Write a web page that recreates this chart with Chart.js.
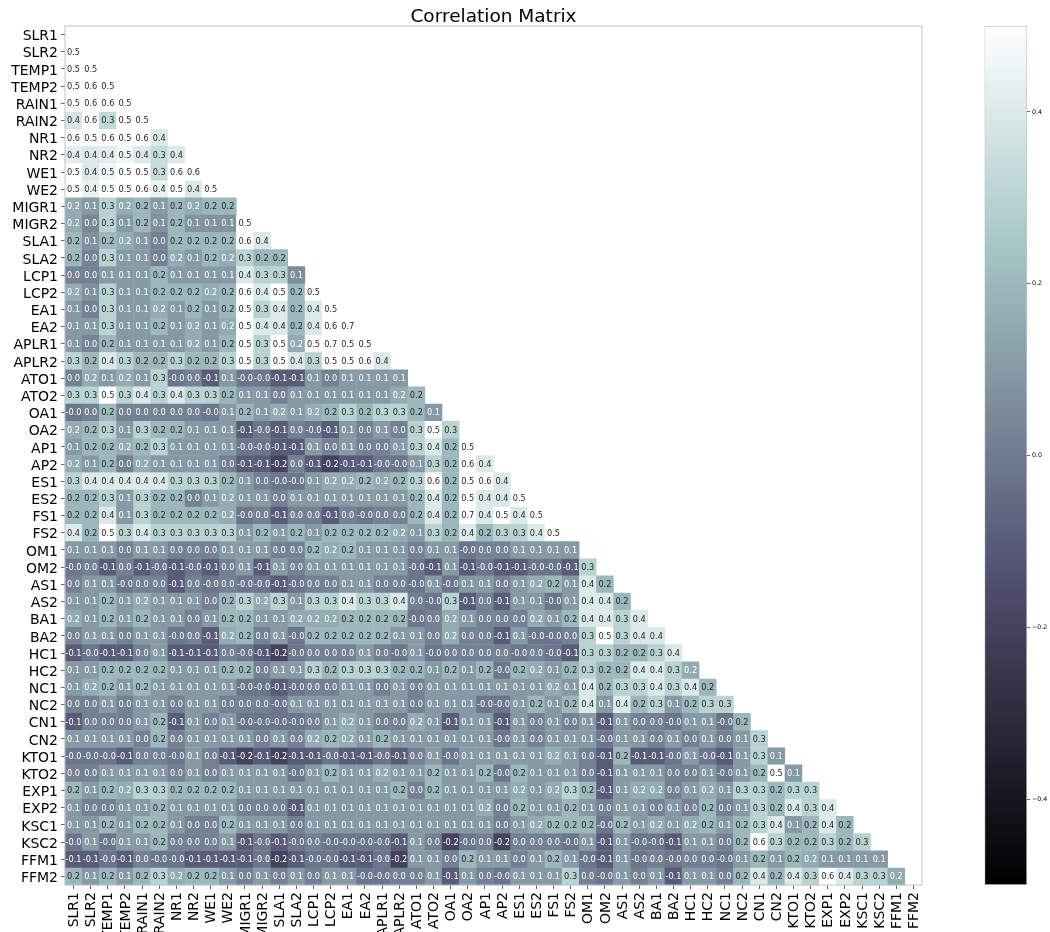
<!DOCTYPE html>
<html>
<head>
<meta charset="utf-8">
<title>Correlation Matrix</title>
<script src="https://cdn.jsdelivr.net/npm/chart.js@4"></script>
<style>
  html, body { margin: 0; padding: 0; background: #fff; overflow: hidden; }
  #wrap { position: relative; width: 1050px; height: 932px; }
  canvas { filter: blur(0.35px); }
  #heat { position: absolute; left: 0; top: 0; }
  #bar { position: absolute; left: 960px; top: 0; }
</style>
</head>
<body>
<div id="wrap">
  <canvas id="heat" width="1050" height="932"></canvas>
  <canvas id="bar" width="90" height="932"></canvas>
</div>
<script>
const labels = ["SLR1","SLR2","TEMP1","TEMP2","RAIN1","RAIN2","NR1","NR2","WE1","WE2","MIGR1","MIGR2","SLA1","SLA2","LCP1","LCP2","EA1","EA2","APLR1","APLR2","ATO1","ATO2","OA1","OA2","AP1","AP2","ES1","ES2","FS1","FS2","OM1","OM2","AS1","AS2","BA1","BA2","HC1","HC2","NC1","NC2","CN1","CN2","KTO1","KTO2","EXP1","EXP2","KSC1","KSC2","FFM1","FFM2"];
const colorbarTicks = [-0.4, -0.2, 0, 0.2, 0.4];

// lower triangle, one list per row (SLR1 row is empty)
const rowSLR2 = [.5];
const rowTEMP1 = [.5,.5];
const rowTEMP2 = [.5,.6,.5];
const rowRAIN1 = [.5,.6,.6,.5];
const rowRAIN2 = [.38,.6,.32,.5,.5];
const rowNR1 = [.6,.5,.6,.5,.6,.4];
const rowNR2 = [.42,.4,.42,.46,.4,.34,.4];
const rowWE1 = [.5,.4,.46,.5,.5,.34,.6,.6];
const rowWE2 = [.5,.44,.5,.5,.6,.44,.5,.4,.5];
const rowMIGR1 = [.16,.1,.3,.16,.2,.1,.2,.16,.2,.2];
const rowMIGR2 = [.16,.04,.3,.1,.2,.07,.2,.08,.08,.08,.5];
const rowSLA1 = [.2,.07,.2,.16,.1,.02,.2,.2,.2,.2,.6,.4];
const rowSLA2 = [.2,.02,.3,.1,.1,.02,.16,.1,.2,.16,.3,.2,.2];
const rowLCP1 = [.02,.02,.1,.1,.1,.2,.1,.1,.1,.1,.4,.3,.3,.06];
const rowLCP2 = [.16,.07,.3,.1,.1,.2,.2,.2,.16,.2,.6,.4,.5,.2,.5];
const rowEA1 = [.1,.02,.3,.1,.1,.16,.1,.2,.1,.2,.5,.3,.4,.2,.4,.5];
const rowEA2 = [.1,.1,.3,.1,.1,.2,.1,.16,.1,.16,.5,.4,.4,.2,.4,.6,.7];
const rowAPLR1 = [.1,.03,.2,.1,.1,.1,.1,.16,.1,.2,.5,.3,.5,.16,.5,.7,.5,.5];
const rowAPLR2 = [.3,.2,.4,.3,.2,.2,.3,.2,.2,.3,.5,.3,.5,.4,.3,.5,.5,.6,.4];
const rowATO1 = [.02,.16,.1,.16,.1,.3,-.02,.02,-.1,.1,-.02,-.02,-.1,-.1,.1,.02,.1,.1,.1,.1];
const rowATO2 = [.3,.3,.5,.3,.4,.3,.4,.3,.3,.2,.1,.1,.02,.1,.1,.1,.1,.1,.1,.16,.2];
const rowOA1 = [-.02,.02,.2,.02,.02,.02,.02,.02,-.02,.1,.2,.1,.16,.1,.16,.2,.3,.2,.3,.3,.2,.1];
const rowOA2 = [.16,.2,.3,.1,.3,.2,.2,.1,.1,.1,-.1,-.02,-.1,.02,-.02,-.1,.1,.02,.1,.02,.3,.5,.3];
const rowAP1 = [.1,.2,.2,.16,.2,.3,.1,.1,.1,.1,-.02,-.02,-.1,-.1,.1,.02,.1,.02,.02,.1,.3,.4,.2,.5];
const rowAP2 = [.16,.1,.2,.02,.16,.1,.1,.1,.1,.02,-.1,-.1,-.2,.02,-.1,-.2,-.1,-.1,-.02,-.02,.1,.3,.2,.6,.4];
const rowES1 = [.3,.4,.4,.4,.4,.4,.3,.3,.3,.2,.1,.02,-.02,-.02,.1,.16,.16,.2,.16,.2,.3,.6,.2,.5,.6,.4];
const rowES2 = [.2,.2,.3,.1,.3,.2,.2,.02,.1,.16,.1,.1,.02,.1,.1,.1,.1,.1,.1,.1,.2,.4,.2,.5,.4,.4,.5];
const rowFS1 = [.2,.2,.4,.1,.3,.2,.2,.2,.2,.16,-.02,.02,-.1,.02,.02,-.1,.02,-.02,.02,.02,.2,.4,.2,.7,.4,.5,.4,.5];
const rowFS2 = [.4,.2,.5,.3,.4,.3,.3,.3,.3,.3,.1,.2,.1,.2,.1,.2,.2,.2,.2,.16,.1,.3,.2,.4,.2,.3,.3,.4,.5];
const rowOM1 = [.1,.1,.1,.02,.1,.1,.02,.02,.02,.1,.1,.1,.02,.02,.2,.16,.2,.1,.1,.1,.02,.1,.1,-.02,.02,.02,.1,.1,.1,.1];
const rowOM2 = [-.02,.02,-.1,.02,-.1,-.02,-.1,-.02,-.1,.02,.1,-.1,.1,.02,.1,.1,.1,.1,.1,.1,-.02,-.1,.1,-.1,-.02,-.1,-.1,-.02,-.02,-.1,.3];
const rowAS1 = [.02,.1,.1,-.02,.02,.02,-.1,.02,-.02,.02,-.02,-.02,-.1,-.02,.02,.02,.1,.1,.02,.02,-.02,.1,-.02,.1,.1,.02,.1,.16,.2,.1,.4,.2];
const rowAS2 = [.1,.1,.2,.1,.16,.1,.1,.1,.02,.2,.3,.16,.3,.1,.3,.3,.4,.3,.3,.4,.02,-.02,.3,-.1,.02,-.1,.1,.1,-.02,.1,.4,.4,.2];
const rowBA1 = [.16,.1,.2,.1,.2,.1,.1,.02,.1,.2,.2,.1,.1,.16,.16,.16,.2,.2,.2,.2,-.02,.02,.16,.1,.02,.02,.02,.16,.1,.2,.4,.4,.3,.4];
const rowBA2 = [.02,.1,.1,.02,.1,.1,-.02,.02,-.1,.16,.2,.02,.1,-.02,.2,.2,.2,.2,.2,.1,.1,.02,.16,.02,.02,-.1,.1,-.02,-.02,.02,.3,.5,.3,.4,.4];
const rowHC1 = [-.1,-.02,-.1,-.1,.02,.1,-.1,-.1,-.1,.02,-.02,-.1,-.2,-.02,.02,.02,.02,.1,.02,-.02,.1,-.02,.02,.02,.02,.02,-.02,.02,-.02,-.1,.3,.3,.2,.2,.3,.4];
const rowHC2 = [.1,.1,.2,.2,.2,.2,.1,.1,.1,.2,.2,.02,.1,.1,.3,.2,.3,.3,.3,.2,.2,.1,.2,.1,.2,-.02,.2,.16,.1,.2,.3,.2,.2,.4,.4,.3,.16];
const rowNC1 = [.1,.16,.2,.1,.2,.1,.1,.1,.1,.1,-.02,-.02,-.1,-.02,.02,.02,.1,.1,.02,.1,.02,.1,.1,.1,.1,.1,.1,.1,.16,.1,.4,.2,.3,.3,.4,.3,.4,.2];
const rowNC2 = [.02,.02,.1,.02,.1,.1,.02,.1,.1,.02,.02,.02,-.02,.1,.1,.1,.1,.1,.1,.1,.02,.1,.1,.1,-.02,-.02,.1,.2,.1,.2,.4,.1,.4,.2,.3,.1,.2,.3,.3];
const rowCN1 = [-.1,.02,.02,.02,.1,.2,-.1,.1,.02,.1,-.02,-.02,-.02,-.02,.02,.1,.16,.1,.02,.02,.16,.1,-.1,.1,.1,-.1,.1,.02,.1,.02,.1,-.1,.1,.02,.02,-.02,.1,.1,-.02,.2];
const rowCN2 = [.1,.1,.1,.1,.02,.2,.02,.1,.1,.1,.1,.02,.1,.02,.16,.2,.16,.1,.2,.1,.1,.1,.1,.1,.1,-.02,.1,.02,.1,.1,.1,-.02,.1,.1,.02,.1,.02,.1,.02,.1,.3];
const rowKTO1 = [-.02,-.02,-.02,-.1,.02,.02,-.02,.1,.02,-.1,-.2,-.1,-.2,-.1,-.1,-.02,-.1,-.1,-.02,-.1,.02,.1,-.02,.1,.1,.1,.1,.1,.16,.1,.02,-.1,.2,-.1,-.1,-.02,.1,-.02,-.1,.1,.3,.1];
const rowKTO2 = [.02,.02,.1,.1,.1,.1,.02,.1,.02,.1,.1,.1,.1,-.02,.1,.2,.1,.1,.16,.1,.1,.2,.1,.1,.2,-.02,.2,.1,.1,.1,.02,-.1,.1,.1,.1,.02,.02,.1,-.02,.1,.2,.5,.1];
const rowEXP1 = [.2,.1,.2,.16,.3,.3,.2,.2,.2,.2,.1,.1,.1,.1,.1,.1,.1,.1,.1,.2,.02,.2,.1,.1,.1,.1,.16,.1,.16,.3,.2,-.1,.1,.16,.16,.02,.1,.16,.1,.3,.3,.2,.3,.3];
const rowEXP2 = [.1,.02,.02,.1,.1,.2,.1,.1,.1,.1,.02,.02,.02,-.1,.1,.1,.1,.1,.1,.1,.1,.1,.1,.1,.16,.02,.2,.1,.1,.2,.1,.02,.1,.1,.02,.1,.02,.2,.02,.1,.3,.2,.4,.3,.4];
const rowKSC1 = [.1,.1,.2,.1,.2,.2,.1,.02,.02,.2,.1,.1,.1,.02,.1,.1,.1,.1,.1,.1,.1,.1,.1,.1,.1,.02,.1,.16,.2,.2,.2,-.02,.2,.1,.16,.1,.16,.2,.1,.2,.3,.4,.1,.2,.4,.2];
const rowKSC2 = [-.02,.1,-.02,.1,.1,.2,.02,.02,.02,.1,-.1,-.02,-.1,-.02,.02,-.02,-.02,-.02,-.02,-.1,.1,.02,-.2,-.02,.02,-.2,.02,.02,.02,-.02,.1,-.1,.1,-.02,-.02,-.1,.1,.1,.02,.2,.6,.3,.2,.2,.3,.2,.3];
const rowFFM1 = [-.1,-.1,-.02,-.1,.02,-.02,-.02,-.1,-.1,-.1,-.1,-.02,-.2,-.1,-.02,-.02,-.1,-.1,-.02,-.2,.1,.1,.02,.2,.1,.1,.02,.1,.2,.1,-.02,-.1,.1,-.02,.02,-.02,.02,.02,-.02,.1,.2,.1,.2,.16,.1,.1,.1,.1];
const rowFFM2 = [.2,.1,.2,.1,.2,.3,.16,.2,.2,.1,.02,.1,.02,.1,.02,.1,.1,-.02,-.02,.02,.02,.1,-.1,.1,.02,-.02,.1,.1,.1,.3,.02,-.02,.1,.02,.1,-.1,.1,.1,.02,.2,.4,.2,.4,.3,.6,.4,.3,.3,.16];

const rows = [[], rowSLR2, rowTEMP1, rowTEMP2, rowRAIN1, rowRAIN2, rowNR1, rowNR2, rowWE1, rowWE2,
  rowMIGR1, rowMIGR2, rowSLA1, rowSLA2, rowLCP1, rowLCP2, rowEA1, rowEA2, rowAPLR1, rowAPLR2,
  rowATO1, rowATO2, rowOA1, rowOA2, rowAP1, rowAP2, rowES1, rowES2, rowFS1, rowFS2,
  rowOM1, rowOM2, rowAS1, rowAS2, rowBA1, rowBA2, rowHC1, rowHC2, rowNC1, rowNC2,
  rowCN1, rowCN2, rowKTO1, rowKTO2, rowEXP1, rowEXP2, rowKSC1, rowKSC2, rowFFM1, rowFFM2];

// matplotlib "bone" colormap
const boneR = [[0, 0], [0.746032, 0.652778], [1, 1]];
const boneG = [[0, 0], [0.365079, 0.319444], [0.746032, 0.777778], [1, 1]];
const boneB = [[0, 0], [0.365079, 0.444444], [1, 1]];

function lerpStops(stops, t) {
    for (let i = 1; i < stops.length; i++) {
        if (t <= stops[i][0]) {
            const f = (t - stops[i - 1][0]) / (stops[i][0] - stops[i - 1][0]);
            return stops[i - 1][1] + f * (stops[i][1] - stops[i - 1][1]);
        }
    }
    return 1;
}

function boneRgb(v) {
    const t = Math.min(1, Math.max(0, v + 0.5));
    return [lerpStops(boneR, t), lerpStops(boneG, t), lerpStops(boneB, t)];
}

function boneCss(v) {
    const c = boneRgb(v).map(x => Math.round(x * 255));
    return `rgb(${c[0]},${c[1]},${c[2]})`;
}

// same rule seaborn uses to pick the annotation colour
function textColor(v) {
    const lin = boneRgb(v).map(x => x <= 0.03928 ? x / 12.92 : Math.pow((x + 0.055) / 1.055, 2.4));
    const lum = 0.2126 * lin[0] + 0.7152 * lin[1] + 0.0722 * lin[2];
    return lum > 0.408 ? "#262626" : "#ffffff";
}

const cells = [];
rows.forEach((row, r) => row.forEach((v, c) => cells.push({ x: labels[c], y: labels[r], v })));

const annotate = {
    id: "annotate",
    afterDatasetsDraw(chart) {
        const { ctx, chartArea } = chart;
        ctx.save();
        ctx.font = "8.2px 'DejaVu Sans'";
        ctx.textAlign = "center";
        ctx.textBaseline = "middle";
        chart.getDatasetMeta(0).data.forEach((pt, i) => {
            const v = cells[i].v;
            ctx.fillStyle = textColor(v);
            ctx.fillText(v.toFixed(1), pt.x, pt.y + 0.7);
        });
        ctx.strokeStyle = "#c4c4c4";
        ctx.lineWidth = 1;
        ctx.strokeRect(chartArea.left, chartArea.top, chartArea.right - chartArea.left, chartArea.bottom - chartArea.top);
        ctx.restore();
    }
};

const axisFont = { family: "'DejaVu Sans'", size: 14 };

new Chart(document.getElementById("heat"), {
    type: "scatter",
    data: {
        labels,
        datasets: [{
            data: cells,
            pointStyle: "rect",
            pointRadius: ctx => (ctx.chart.scales.x.width / labels.length + 0.4) * Math.SQRT1_2,
            backgroundColor: ctx => ctx.raw ? boneCss(ctx.raw.v) : "#fff",
            borderWidth: 0
        }]
    },
    options: {
        responsive: false,
        animation: false,
        events: [],
        layout: { padding: { right: 128, left: 0, top: 0, bottom: 0 } },
        plugins: {
            legend: { display: false },
            tooltip: { enabled: false },
            title: {
                display: true,
                text: "Correlation Matrix",
                fullSize: false,
                color: "#000",
                font: { family: "'DejaVu Sans'", size: 18.5, weight: "normal", lineHeight: 1 },
                padding: { top: 7.5, bottom: 0 }
            }
        },
        scales: {
            x: {
                type: "category",
                offset: true,
                afterFit: s => { s.height = 47; },
                border: { display: false },
                grid: { drawOnChartArea: false, tickLength: 4, tickColor: "#666" },
                ticks: { autoSkip: false, minRotation: 90, maxRotation: 90, padding: 3, labelOffset: 1, color: "#000", font: axisFont }
            },
            y: {
                type: "category",
                offset: true,
                afterFit: s => { s.width = 65; },
                border: { display: false },
                grid: { drawOnChartArea: false, tickLength: 4, tickColor: "#666" },
                ticks: { autoSkip: false, padding: 3, labelOffset: 2, color: "#000", font: axisFont }
            }
        }
    },
    plugins: [annotate]
});

new Chart(document.getElementById("bar"), {
    type: "bar",
    data: {
        labels: [""],
        datasets: [{
            data: [[-0.5, 0.5]],
            barPercentage: 1,
            categoryPercentage: 1,
            borderColor: "#c4c4c4",
            borderWidth: 1,
            borderSkipped: false,
            backgroundColor: ctx => {
                const area = ctx.chart.chartArea;
                if (!area) return "#888";
                const g = ctx.chart.ctx.createLinearGradient(0, area.bottom, 0, area.top);
                for (let i = 0; i <= 40; i++) g.addColorStop(i / 40, boneCss(i / 40 - 0.5));
                return g;
            }
        }]
    },
    options: {
        responsive: false,
        animation: false,
        events: [],
        layout: { padding: { left: 24.5, right: 0, top: 26, bottom: 47 } },
        plugins: { legend: { display: false }, tooltip: { enabled: false } },
        scales: {
            x: { display: false },
            y: {
                position: "right",
                min: -0.5,
                max: 0.5,
                afterBuildTicks: s => { s.ticks = colorbarTicks.map(value => ({ value })); },
                afterFit: s => { s.width = 23; },
                border: { display: false },
                grid: { drawOnChartArea: false, tickLength: 3, tickColor: "#666" },
                ticks: {
                    padding: 2,
                    color: "#000",
                    font: { family: "'DejaVu Sans'", size: 6.3 },
                    callback: v => (v < 0 ? "\u2212" : "") + Math.abs(v).toFixed(1)
                }
            }
        }
    }
});
</script>
</body>
</html>
